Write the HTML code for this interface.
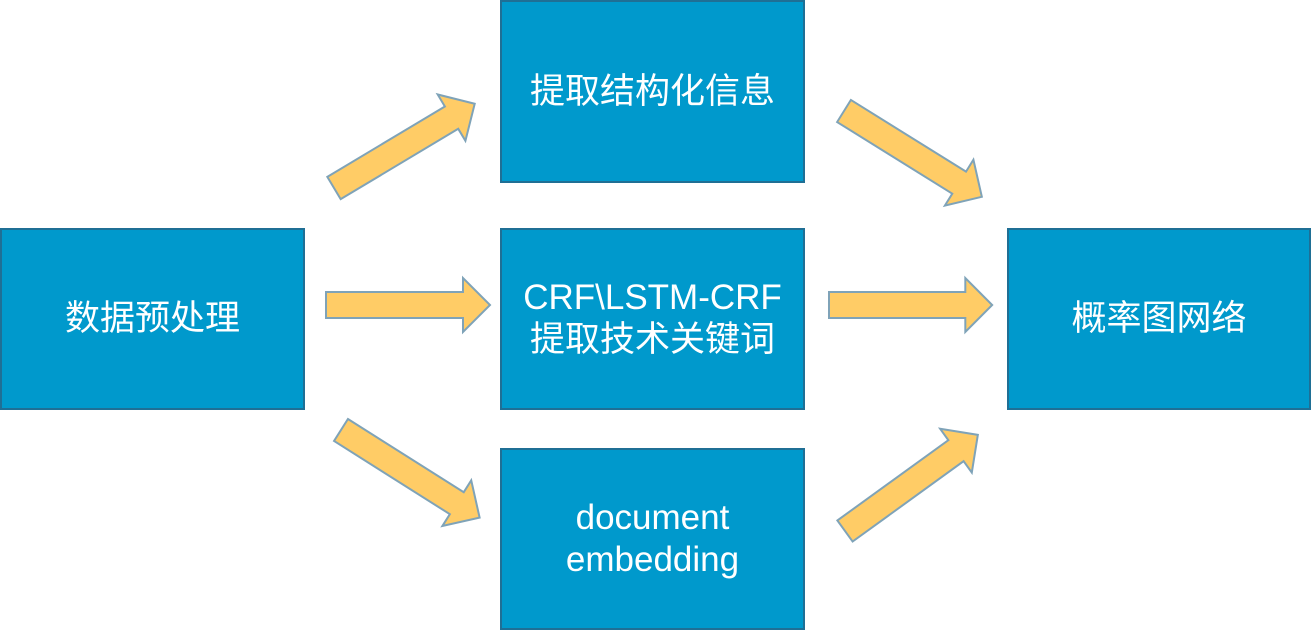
<!DOCTYPE html>
<html><head><meta charset="utf-8"><style>
body{margin:0;width:1311px;height:630px;background:#fff;position:relative;overflow:hidden;font-family:"Liberation Sans","Noto Sans CJK SC",sans-serif}
.b{position:absolute;background:#0099cc;border:2px solid #1f6f95;box-sizing:border-box;color:#fff;font-size:35px;display:flex;align-items:center;justify-content:center;text-align:center;line-height:42px}
svg{position:absolute;left:0;top:0}
</style></head><body>
<div class="b" style="left:0;top:228px;width:305px;height:182px">数据预处理</div>
<div class="b" style="left:500px;top:0;width:305px;height:183px">提取结构化信息</div>
<div class="b" style="left:500px;top:228px;width:305px;height:182px">CRF\LSTM-CRF<br>提取技术关键词</div>
<div class="b" style="left:500px;top:448px;width:305px;height:182px">document<br>embedding</div>
<div class="b" style="left:1007px;top:228px;width:304px;height:182px">概率图网络</div>
<svg width="1311" height="630">
<defs><polygon id="a" points="0,-13 137,-13 137,-27 164,0 137,27 137,13 0,13" fill="#ffcc66" stroke="#7fa3b8" stroke-width="2"/></defs>
<use href="#a" transform="translate(334,188) rotate(-30.9)"/>
<use href="#a" transform="translate(326,305)"/>
<use href="#a" transform="translate(341,430) rotate(32.3)"/>
<use href="#a" transform="translate(844,111) rotate(31.9) scale(0.99,1)"/>
<use href="#a" transform="translate(829,305) scale(0.995,1)"/>
<use href="#a" transform="translate(845,531) rotate(-35.9)"/>
</svg>
</body></html>
